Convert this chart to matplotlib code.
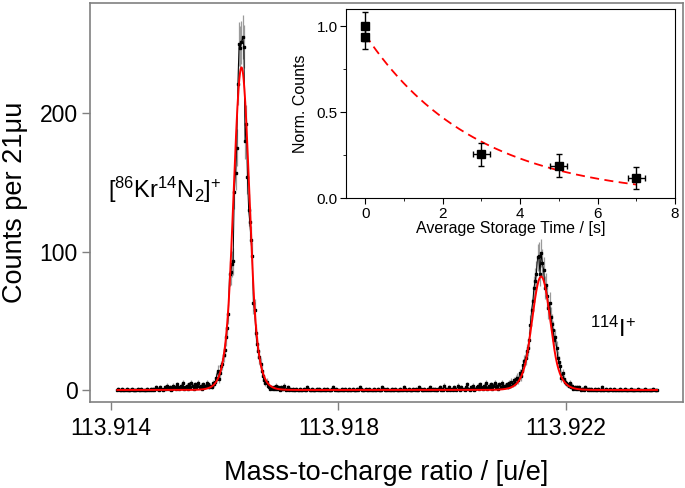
import numpy as np
import matplotlib
matplotlib.use("Agg")
import matplotlib.pyplot as plt

plt.rcParams["font.family"] = ["Liberation Sans", "DejaVu Sans"]
plt.rcParams["mathtext.fontset"] = "custom"
plt.rcParams["mathtext.rm"] = "Liberation Sans"
plt.rcParams["mathtext.it"] = "Liberation Sans:italic"

# ---- main spectrum: counts per 21 micro-u bin ----
x_start = 113.91411
bin_width = 0.000021

base_left = [0, 1, 0, 0, 1, 0, 0, 0, 1, 0, 0, 0, 1, 0, 0, 0, 0, 1, 0, 0,
             1, 0, 0, 0, 0, 1, 0, 0, 1, 0,
             1, 0, 2, 1, 1, 0, 2, 1, 0, 1, 2, 1, 3, 1, 2, 0, 1, 3, 2, 1,
             4, 2, 1, 3, 2, 5, 1, 2, 3, 1, 4, 2, 5, 3, 1, 4, 2, 3, 5, 2,
             3, 1, 4, 2, 3, 5, 4, 2]
peak_kr = [3, 2, 5, 4, 6, 9, 14, 8, 12, 17, 19, 25, 29, 38, 45, 55, 84, 85, 91, 93,
           143, 157, 175, 221, 250, 247, 251, 255, 248, 180, 192, 154, 130, 121, 108, 97,
           63, 58, 41, 33, 28, 24, 19, 14, 10, 7, 5, 6, 3, 2, 1, 2, 1]
base_mid = [2, 1, 3, 1, 2, 0, 2, 1, 1, 3, 0, 1, 2, 0, 1,
            0, 1, 0, 0, 1, 0, 0, 1, 0, 0, 1, 0, 0, 2, 1, 0, 0, 1, 0, 0,
            0, 1, 0, 1, 0, 0, 0, 1, 0, 0, 1, 0, 0, 0, 1, 2, 0, 1, 0, 0,
            0, 0, 1, 0, 0, 1, 0, 0, 1, 0,
            0, 1, 0, 0, 0, 1, 0, 2, 1, 0, 0, 0, 1, 0, 0, 1, 0, 0, 0, 1,
            0, 0, 1, 0, 0, 0, 2, 1, 0, 0, 1, 0, 0, 0, 1, 0, 0, 1, 0, 0,
            0, 1, 0, 0, 2, 1, 0, 0, 1, 0,
            0, 0, 1, 0, 1, 0, 0, 2, 1, 0, 0, 1, 0, 0, 1, 0, 2, 0, 1, 0,
            1, 0, 0, 1, 2, 0, 1, 0, 3, 1, 0, 1, 2, 0, 1, 0, 2, 1, 0, 3,
            1, 0, 2, 1, 1, 0, 2, 4, 1, 0, 2, 1, 3, 0, 1,
            2, 3, 1, 4, 2, 1, 3, 2, 5, 1, 3, 2, 4, 1, 3, 5, 2, 3, 1, 4,
            2, 5, 3, 2]
peak_i = [3, 4, 2, 5, 3, 6, 4, 7, 5, 8, 9, 7, 12, 10, 14, 18, 21, 23, 28, 30,
          36, 47, 58, 64, 74, 79, 84, 96, 97, 84, 99, 92, 87, 74, 76, 68, 59, 63, 53, 48,
          43, 36, 38, 30, 23, 20, 17, 9, 12, 8, 6, 5, 4, 3, 5, 2, 3, 1, 2, 1, 2]
base_right = [1, 2, 0, 1, 1, 0, 2, 1, 0, 1, 0, 1, 0, 0, 1, 0, 0, 1, 0, 0,
              2, 0, 0, 1, 0, 0, 0, 1, 0, 0, 1, 0, 0, 0, 0, 1, 0, 0, 0, 1,
              0, 0, 0, 0, 1, 0, 0, 0, 0, 0, 1, 0, 0, 0, 0, 0, 1, 0, 0, 0,
              0, 0, 0, 1, 0, 0, 0]

counts = np.array(base_left + peak_kr + base_mid + peak_i + base_right, dtype=float)
mass = x_start + bin_width * np.arange(len(counts))

# fit parameters (gaussian core with exponential tails)
fit_height = [233, 82]
fit_center = [113.916294, 113.921565]
fit_sigma = [0.000139, 0.000162]
fit_tail = 1.5

# ---- inset: storage time decay ----
t_store = [0, 0, 3, 5, 7]
t_err = [0, 0, 0.22, 0.22, 0.22]
norm_counts = [1.0, 0.94, 0.255, 0.19, 0.12]
norm_err = [0.085, 0.07, 0.068, 0.065, 0.063]
decay_amp = 0.95
decay_tau = 2.83


def peak(x, h, c, s, k):
    u = np.abs(x - c) / s
    return h * np.where(u < k, np.exp(-0.5 * u ** 2), np.exp(0.5 * k ** 2 - k * u))


fig = plt.figure(figsize=(6.85, 4.88), dpi=100)
ax = fig.add_axes([0.1314, 0.1762, 0.8657, 0.8176])

ax.errorbar(mass, counts, yerr=np.sqrt(counts), fmt="none", ecolor="#9a9a9a",
            elinewidth=0.9, capsize=0, zorder=1)
ax.plot(mass, counts, color="black", lw=0.7, marker="s", ms=2.0, zorder=2)

xf = np.linspace(mass[0], mass[-1], 2000)
yf = sum(peak(xf, h, c, s, fit_tail) for h, c, s in zip(fit_height, fit_center, fit_sigma))
ax.plot(xf, yf, color="red", lw=1.4, zorder=3)

ax.set_xlim(113.91363, 113.92406)
ax.set_ylim(-8.7, 279.5)
ax.set_xticks([113.914, 113.918, 113.922])
ax.set_xticklabels(["113.914", "113.918", "113.922"])
ax.set_yticks([0, 100, 200])
ax.tick_params(direction="out", length=6, width=1, color="#808080", labelsize=16.5)
ax.tick_params(axis="x", pad=5)
ax.tick_params(axis="y", pad=3)
for sp in ax.spines.values():
    sp.set_color("#808080")
    sp.set_linewidth(1.2)
ax.set_xlabel("Mass-to-charge ratio / [u/e]", fontsize=19.5, labelpad=14)
ax.set_ylabel("Counts per 21\u03bcu", fontsize=19.5, labelpad=8)

ax.text(113.91394, 139, r"[$^{86}$Kr$^{14}$N$_2$]$^{+}$", fontsize=17, ha="left", va="baseline")
ax.text(113.92242, 38, r"$^{114}$I$^{+}$", fontsize=17, ha="left", va="baseline")

# inset
ins = fig.add_axes([0.505, 0.5936, 0.4803, 0.388])
ins.errorbar(t_store, norm_counts, xerr=t_err, yerr=norm_err, fmt="s", color="black",
             ms=6, elinewidth=1, capsize=2.5, capthick=1, zorder=3)
tf = np.linspace(0, 7, 200)
ins.plot(tf, decay_amp * np.exp(-tf / decay_tau), color="red", ls=(0, (5, 3)), lw=1.3, zorder=2)
ins.set_xlim(-0.5, 8)
ins.set_ylim(0, 1.1)
ins.set_xticks([0, 2, 4, 6, 8])
ins.set_xticks([1, 3, 5, 7], minor=True)
ins.set_yticks([0.0, 0.5, 1.0])
ins.set_yticks([0.25, 0.75], minor=True)
ins.tick_params(which="both", direction="out", labelsize=11, pad=2)
ins.tick_params(which="major", length=4)
ins.tick_params(which="minor", length=2.5)
ins.set_xlabel("Average Storage Time / [s]", fontsize=11.5, labelpad=0)
ins.set_ylabel("Norm. Counts", fontsize=11.5, labelpad=6)

fig.savefig("out.png", dpi=100)
